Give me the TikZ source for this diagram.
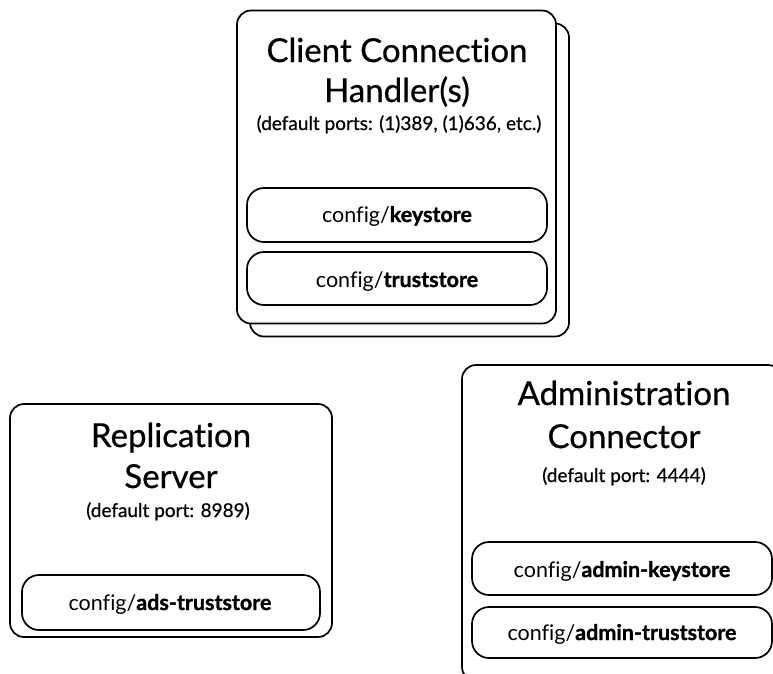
\documentclass[tikz,border=0pt]{standalone}
\usepackage{fontspec}
\setmainfont{Lato}[Ligatures=NoCommon,BoldFeatures={FakeBold=1.2}]
\newfontfamily\ttlfont{Lato}[Ligatures=NoCommon,FakeBold=0.6]
\begin{document}
\begin{tikzpicture}[x=1pt,y=-1pt,
  box/.style={draw=black,line width=1.7pt,rounded corners=14pt,fill=white,inner sep=0pt},
  pill/.style={draw=black,line width=1.7pt,rounded corners=17pt,fill=white,inner sep=0pt},
  ttl/.style={anchor=base,inner sep=0pt,font=\ttlfont\fontsize{33}{40}\selectfont},
  sub/.style={anchor=base,inner sep=0pt,font=\ttlfont\fontsize{19}{22}\selectfont},
  cfg/.style={anchor=base,inner sep=0pt,font=\fontsize{21.5}{24}\selectfont}]
\useasboundingbox (0,0) rectangle (773,673);
\begin{scope}
\clip (0,0) rectangle (773,673);
% Client connection handler(s)
\node[box,minimum width=319pt,minimum height=313pt] (cback) at (409.5,180) {};
\node[box,minimum width=319pt,minimum height=313pt] (cfront) at (396.5,167) {};
\node[ttl] (ct1) at (397,62) {Client Connection};
\node[ttl] (ct2) at (397,102) {Handler(s)};
\node[sub] (cst) at (399,130) {(default ports: (1)389, (1)636, etc.)};
\node[pill,minimum width=300pt,minimum height=54pt] (cks) at (397,215) {};
\node[cfg] (ckst) at (397,222) {config/\textbf{keystore}};
\node[pill,minimum width=300pt,minimum height=53pt] (cts) at (397,278.5) {};
\node[cfg] (ctst) at (397,287) {config/\textbf{truststore}};
% Replication server
\node[box,minimum width=322pt,minimum height=233pt] (rs) at (171,520.5) {};
\node[ttl] (rt1) at (171,447) {Replication};
\node[ttl] (rt2) at (171,488) {Server};
\node[sub] (rst) at (168,517) {(default port: 8989)};
\node[pill,minimum width=298pt,minimum height=55pt] (rts) at (171,602.5) {};
\node[cfg] (rtst) at (170,610) {config/\textbf{ads-truststore}};
% Administration connector
\node[box,minimum width=320pt,minimum height=316pt] (ac) at (622,523) {};
\node[ttl] (at1) at (624,405) {Administration};
\node[ttl] (at2) at (624,448) {Connector};
\node[sub] (ast) at (624,482) {(default port: 4444)};
\node[pill,minimum width=300pt,minimum height=53pt] (aks) at (622,568.5) {};
\node[cfg] (akst) at (622,577) {config/\textbf{admin-keystore}};
\node[pill,minimum width=300pt,minimum height=51pt] (ats) at (622,632.5) {};
\node[cfg] (atst) at (622,640) {config/\textbf{admin-truststore}};
\end{scope}
\end{tikzpicture}
\end{document}
